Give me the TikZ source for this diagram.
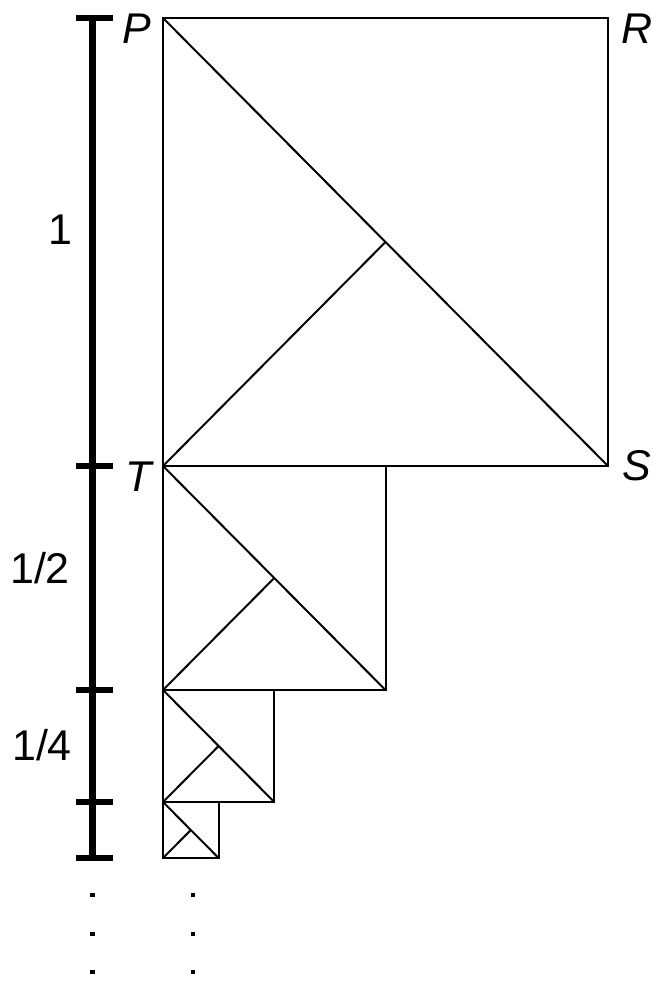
\documentclass[tikz,border=0pt]{standalone}
\usepackage{fontspec}
\setmainfont{Liberation Sans}
\usepackage{tikz}

\begin{document}
\begin{tikzpicture}[x=1pt, y=-1pt,
    edge/.style={line width=2pt, line join=miter},
    bar/.style={line width=7pt},
    tick/.style={line width=6pt},
    vertex/.style={font=\fontsize{43}{43}\selectfont\itshape, inner sep=0pt},
    length/.style={font=\fontsize{43}{43}\selectfont, inner sep=0pt}]
            \useasboundingbox (0,0) rectangle (667,985);
            % Squares
            \foreach \i in {0,...,3} {
                \pgfmathsetmacro{\sx}{445/2^\i}
                \pgfmathsetmacro{\sy}{448/2^\i}
                \pgfmathsetmacro{\top}{18+896*(1-1/2^\i)}
                \coordinate (tl\i) at (163,\top);
                \coordinate (br\i) at (163+\sx,\top+\sy);
                \coordinate (bl\i) at (163,\top+\sy);
                \coordinate (c\i) at (163+\sx/2,\top+\sy/2);
                \draw[edge] (tl\i) rectangle (br\i);
                \draw[edge] (tl\i) -- (br\i);
                \draw[edge] (bl\i) -- (c\i);
            }
            % Scale bar
            \coordinate (b0) at (92.5,18);
            \coordinate (b1) at (92.5,466);
            \coordinate (b2) at (92.5,690);
            \coordinate (b3) at (92.5,802);
            \coordinate (b4) at (92.5,858);
            \draw[bar] (92.5,15) -- (b4);
            \foreach \j in {0,...,4}
                \draw[tick] ([xshift=-16.5pt]b\j) -- ([xshift=20.5pt]b\j);
            % Labels
            \node[vertex] (P) at (137,29) {P};
            \node[vertex] (R) at (637,29) {R};
            \node[vertex] (T) at (139,477) {T};
            \node[vertex] (S) at (637,466) {S};
            \node[length] (one) at (60,230) {1};
            \node[length] (half) at (40,568) {1/2};
            \node[length] (quarter) at (42,745) {1/4};
            % Dots
            \foreach \y in {895,934,972} {
                \fill (90.3,\y-2.2) rectangle ++(4.4,4.4);
                \fill (190.8,\y-2.2) rectangle ++(4.4,4.4);
            }
\end{tikzpicture}
\end{document}
